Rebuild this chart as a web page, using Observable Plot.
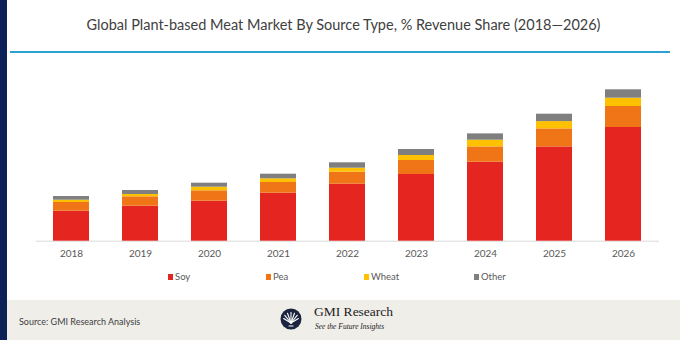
<!DOCTYPE html>
<html>
<head>
<meta charset="utf-8">
<script src="https://cdn.jsdelivr.net/npm/d3@7"></script>
<script src="https://cdn.jsdelivr.net/npm/@observablehq/plot@0.6"></script>
<style>
  body { margin:0; width:680px; height:340px; position:relative; overflow:hidden; background:#fff; font-family: Lato, "Open Sans", sans-serif; }
  .abs { position:absolute; }
  #stripe { left:0; top:0; width:7px; height:340px; background:#0d2157; z-index:5; }
  #title { left:7px; width:673px; top:16px; text-align:center; font-size:14.5px; color:#404040; white-space:nowrap; }
  #rule { left:10px; top:51px; width:660px; height:2px; background:#2ea3d2; }
  #chart { left:0; top:70px; }
  .leg { top:271px; font-size:9.5px; color:#595959; display:flex; align-items:center; white-space:nowrap; }
  .leg span.sw { display:inline-block; width:5px; height:6px; margin-right:2px; }
  #footer { left:0; top:300px; width:680px; height:40px; background:#efeee9; }
  #source { left:19px; top:316px; font-size:9px; color:#404040; }
  #logo { left:280px; top:308px; }
  #brand { left:314px; top:304px; font-family:"Liberation Serif", "DejaVu Serif", serif; font-size:13.5px; color:#222; white-space:nowrap; }
  #tag { left:315px; top:322px; font-family:"Liberation Serif", "DejaVu Serif", serif; font-style:italic; font-size:7.5px; color:#222; white-space:nowrap; }
</style>
</head>
<body>
<div id="stripe" class="abs"></div>
<div id="title" class="abs">Global Plant-based Meat Market By Source Type, % Revenue Share (2018—2026)</div>
<div id="rule" class="abs"></div>
<div id="chart" class="abs"></div>
<div id="legend"></div>
<div id="footer" class="abs"></div>
<div id="source" class="abs">Source: GMI Research Analysis</div>
<svg id="logo" class="abs" width="22" height="22" viewBox="0 0 22 22">
  <circle cx="11" cy="11" r="10.5" fill="#1b2540"/>
  <g stroke="#fff" stroke-width="1.1" stroke-linecap="round">
    <line x1="11" y1="15" x2="11" y2="4.5"/>
    <line x1="11" y1="15" x2="7.5" y2="5.2"/>
    <line x1="11" y1="15" x2="14.5" y2="5.2"/>
    <line x1="11" y1="15" x2="4.8" y2="7.3"/>
    <line x1="11" y1="15" x2="17.2" y2="7.3"/>
    <line x1="11" y1="15" x2="3.6" y2="10.5"/>
    <line x1="11" y1="15" x2="18.4" y2="10.5"/>
    <line x1="9" y1="18" x2="13" y2="18"/>
  </g>
</svg>
<div id="brand" class="abs">GMI Research</div>
<div id="tag" class="abs">See the Future Insights</div>
<script>
const years = ["2018","2019","2020","2021","2022","2023","2024","2025","2026"];
const sources = ["Soy","Pea","Wheat","Other"];
const colors = ["#e5251f","#f07516","#ffc000","#7f7f7f"];
const soy   = [30, 35, 40, 48, 57, 66.7, 79, 94.3, 113.7];
const pea   = [8.7, 9.4, 10.4, 10.7, 12, 14, 15.3, 18, 21];
const wheat = [2.3, 2.3, 3.6, 3.7, 4, 5, 6.7, 7.3, 8.3];
const other = [3.7, 4, 4, 4.6, 5.4, 6, 6.3, 7.4, 8.4];

const series = [soy, pea, wheat, other];
const data = [];
sources.forEach((s, i) => years.forEach((y, j) => data.push({year: y, source: s, value: series[i][j]})));

const chart = Plot.plot({
  width: 680,
  height: 200,
  marginLeft: 35.7,
  marginRight: 21,
  marginTop: 0,
  marginBottom: 29.3,
  style: { fontFamily: "Lato, 'Open Sans', sans-serif", color: "#595959", background: "transparent" },
  x: { type: "band", domain: years, paddingInner: 0.48, paddingOuter: 0.24, label: null },
  y: { domain: [0, 170.7], axis: null },
  color: { domain: sources, range: colors },
  marks: [
    Plot.ruleY([0], { stroke: "#d9d9d9", strokeWidth: 1 }),
    Plot.barY(data, { x: "year", y: "value", fill: "source", order: sources }),
    Plot.axisX({ tickSize: 0, tickPadding: 9, fontSize: 10, label: null })
  ]
});
document.getElementById("chart").appendChild(chart);

const legX = [168, 266, 364, 474];
const leg = document.getElementById("legend");
sources.forEach((s, i) => {
  const d = document.createElement("div");
  d.className = "abs leg";
  d.style.left = legX[i] + "px";
  d.innerHTML = `<span class="sw" style="background:${colors[i]}"></span>${s}`;
  leg.appendChild(d);
});
</script>
</body>
</html>
